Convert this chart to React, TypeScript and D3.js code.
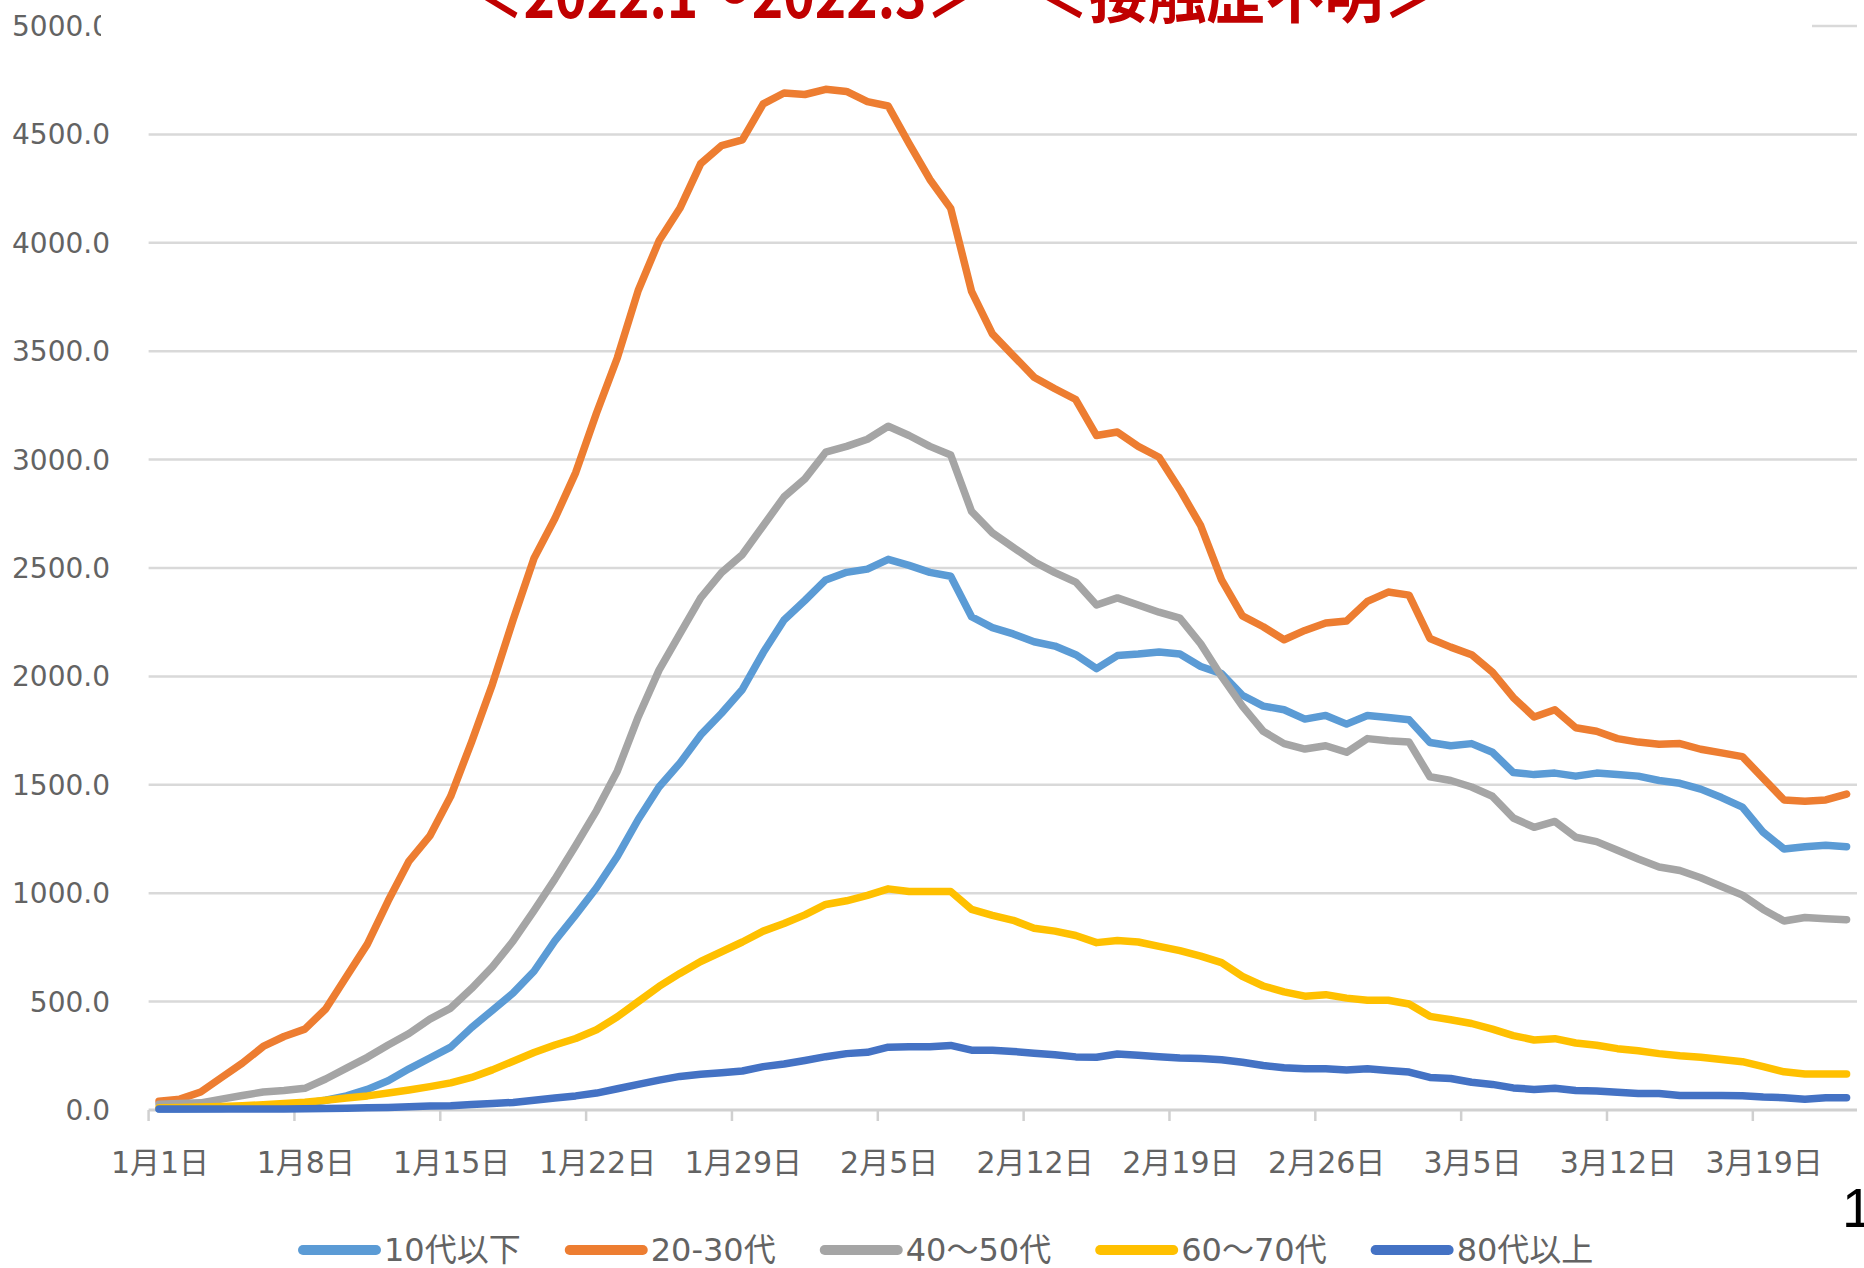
import React, { useRef, useEffect } from 'react';
import * as d3 from 'd3';

// 凡例と色
const seriesNames = ['10代以下', '20-30代', '40～50代', '60～70代', '80代以上'];
const seriesColors = ['#5B9BD5', '#ED7D31', '#A5A5A5', '#FFC000', '#4472C4'];

// 1月1日〜3月23日 (82日分)
const under10 = [
  5, 5, 6, 7, 10, 15, 22, 30, 45, 65,
  95, 135, 190, 240, 290, 380, 460, 540, 640, 780,
  900, 1025, 1170, 1340, 1490, 1600, 1730, 1830, 1940, 2110,
  2260, 2350, 2445, 2480, 2495, 2540, 2512, 2480, 2462, 2275,
  2225, 2196, 2160, 2140, 2100, 2036, 2096, 2103, 2113, 2103,
  2046, 2013, 1913, 1863, 1846, 1803, 1820, 1780, 1820, 1810,
  1800, 1695, 1680, 1690, 1650, 1557, 1547, 1554, 1540, 1554,
  1547, 1540, 1520, 1507, 1480, 1441, 1397, 1281, 1204, 1214,
  1221, 1214,
];
const age20to30 = [
  40, 50, 83, 150, 216, 293, 339, 373, 466, 616,
  765, 965, 1148, 1264, 1447, 1697, 1963, 2262, 2545, 2728,
  2940, 3215, 3470, 3780, 4009, 4159, 4365, 4448, 4475, 4641,
  4691, 4684, 4708, 4698, 4651, 4631, 4458, 4292, 4159, 3776,
  3580, 3480, 3380, 3327, 3277, 3111, 3127, 3061, 3011, 2861,
  2695, 2445, 2279, 2229, 2169, 2212, 2246, 2256, 2346, 2389,
  2375, 2175, 2135, 2100, 2020, 1903, 1813, 1846, 1763, 1747,
  1713, 1697, 1687, 1690, 1664, 1647, 1630, 1530, 1430, 1424,
  1430, 1457,
];
const age40to50 = [
  27, 30, 33, 50, 67, 83, 90, 100, 143, 193,
  243, 300, 353, 419, 470, 560, 660, 780, 920, 1065,
  1220, 1381, 1564, 1813, 2029, 2196, 2362, 2479, 2562, 2695,
  2828, 2911, 3034, 3061, 3094, 3154, 3111, 3061, 3021, 2761,
  2662, 2595, 2529, 2479, 2435, 2329, 2362, 2329, 2296, 2269,
  2150, 2000, 1863, 1747, 1690, 1665, 1680, 1650, 1713, 1703,
  1697, 1537, 1520, 1490, 1447, 1347, 1304, 1331, 1258, 1238,
  1198, 1158, 1121, 1105, 1071, 1031, 991, 925, 872, 888,
  882, 878,
];
const age60to70 = [
  10, 12, 14, 16, 20, 24, 30, 36, 45, 55,
  65, 78, 92, 108, 125, 150, 185, 225, 265, 300,
  330, 370, 430, 500, 570, 630, 685, 730, 775, 825,
  860, 900, 948, 965, 990, 1020, 1008, 1008, 1008, 925,
  898, 875, 838, 825, 805, 772, 782, 775, 755, 735,
  710, 680, 616, 572, 545, 525, 532, 516, 506, 506,
  489, 432, 416, 399, 373, 343, 323, 329, 309, 299,
  283, 273, 260, 250, 243, 233, 223, 200, 176, 166,
  166, 166,
];
const over80 = [
  5, 5, 5, 5, 5, 5, 5, 6, 7, 8,
  10, 12, 15, 18, 20, 25, 30, 35, 45, 55,
  65, 78, 98, 118, 138, 155, 165, 172, 180, 200,
  212, 228, 246, 260, 266, 290, 292, 292, 298, 276,
  276, 270, 262, 255, 245, 243, 258, 252, 246, 240,
  238, 232, 220, 205, 195, 190, 190, 185, 190, 182,
  175, 150, 145, 128, 118, 102, 95, 100, 90, 88,
  82, 76, 76, 67, 67, 67, 66, 60, 57, 50,
  56, 57,
];
const seriesValues = [under10, age20to30, age40to50, age60to70, over80];

const tickLabels = ['1月1日', '1月8日', '1月15日', '1月22日', '1月29日', '2月5日',
  '2月12日', '2月19日', '2月26日', '3月5日', '3月12日', '3月19日'];
const yTicks = [0, 500, 1000, 1500, 2000, 2500, 3000, 3500, 4000, 4500, 5000];

const labelFont = '"DejaVu Sans", "Noto Sans CJK JP", sans-serif';

const App = () => {
  const svgRef = useRef<SVGSVGElement>(null);

  useEffect(() => {
    const width = 1864;
    const height = 1268;
    const svg = d3.select(svgRef.current).attr('width', width).attr('height', height);
    svg.selectAll('*').remove();

    const fmt = d3.timeFormat('%-m月%-d日');
    const days = d3.timeDay.range(new Date(2022, 0, 1), new Date(2022, 2, 24)).map(fmt);

    const x = d3.scaleBand<string>().domain(days).range([148.6, 1857]);
    const y = d3.scaleLinear().domain([0, 5000]).range([1110, 26]);
    const cx = (d: string) => (x(d) as number) + x.bandwidth() / 2;

    // 目盛線
    svg.append('g')
      .selectAll('line')
      .data(yTicks.filter(t => t > 0))
      .join('line')
      .attr('x1', 148.6).attr('x2', 1857)
      .attr('y1', d => y(d)).attr('y2', d => y(d))
      .attr('stroke', '#D9D9D9').attr('stroke-width', 2.5);

    // 縦軸ラベル
    svg.append('g')
      .selectAll('text')
      .data(yTicks)
      .join('text')
      .attr('x', 110).attr('y', d => y(d) + 10)
      .attr('text-anchor', 'end')
      .attr('font-family', labelFont).attr('font-size', 28)
      .attr('fill', '#636363')
      .text(d => d3.format('.1f')(d));

    // 横軸
    svg.append('line')
      .attr('x1', 148.6).attr('x2', 1857)
      .attr('y1', y(0)).attr('y2', y(0))
      .attr('stroke', '#D0D0D0').attr('stroke-width', 3);

    const tickDays = days.filter(d => tickLabels.includes(d));
    svg.append('g')
      .selectAll('line')
      .data(tickDays)
      .join('line')
      .attr('x1', d => x(d) as number).attr('x2', d => x(d) as number)
      .attr('y1', y(0)).attr('y2', y(0) + 11)
      .attr('stroke', '#D0D0D0').attr('stroke-width', 2.5);

    svg.append('g')
      .selectAll('text')
      .data(tickDays)
      .join('text')
      .attr('x', d => cx(d) + 1).attr('y', 1173)
      .attr('text-anchor', 'middle')
      .attr('font-family', labelFont).attr('font-size', 30)
      .attr('fill', '#636363')
      .text(d => d);

    // 折れ線
    const line = d3.line<number>()
      .x((d, i) => cx(days[i]))
      .y(d => y(d));

    seriesValues.forEach((values, k) => {
      svg.append('path')
        .datum(values)
        .attr('d', line)
        .attr('fill', 'none')
        .attr('stroke', seriesColors[k])
        .attr('stroke-width', 7.5)
        .attr('stroke-linejoin', 'round')
        .attr('stroke-linecap', 'round');
    });

    // 凡例
    const legend = svg.append('g');
    let lx = 298;
    seriesNames.forEach((name, k) => {
      legend.append('line')
        .attr('x1', lx + 5).attr('x2', lx + 78)
        .attr('y1', 1250).attr('y2', 1250)
        .attr('stroke', seriesColors[k]).attr('stroke-width', 10)
        .attr('stroke-linecap', 'round');
      const t = legend.append('text')
        .attr('x', lx + 86).attr('y', 1261)
        .attr('font-family', labelFont).attr('font-size', 32)
        .attr('fill', '#636363')
        .text(name);
      const w = (t.node() as SVGTextElement).getComputedTextLength();
      lx += 86 + w + 44;
    });

    // タイトル (上端が切れている)
    svg.append('rect')
      .attr('x', 101).attr('y', 0).attr('width', 1711).attr('height', 46)
      .attr('fill', '#fff');

    svg.append('text')
      .attr('x', 470).attr('y', 18)
      .attr('textLength', 510).attr('lengthAdjust', 'spacingAndGlyphs')
      .attr('font-family', '"Noto Sans CJK JP", sans-serif')
      .attr('font-weight', 'bold').attr('font-size', 62)
      .attr('fill', '#C00000')
      .text('＜2022.1～2022.3＞');
    svg.append('text')
      .attr('x', 1030).attr('y', 18)
      .attr('textLength', 412).attr('lengthAdjust', 'spacingAndGlyphs')
      .attr('font-family', '"Noto Sans CJK JP", sans-serif')
      .attr('font-weight', 'bold').attr('font-size', 62)
      .attr('fill', '#C00000')
      .text('＜接触歴不明＞');

    // ページ番号
    svg.append('text')
      .attr('x', 1842).attr('y', 1227)
      .attr('font-family', '"Liberation Sans", Arial, sans-serif')
      .attr('font-size', 55)
      .attr('fill', '#000')
      .text('1');
  }, []);

  return (
    <svg ref={svgRef} style={{ position: 'absolute', left: 0, top: 0, background: '#fff' }}></svg>
  );
};

export default App;
